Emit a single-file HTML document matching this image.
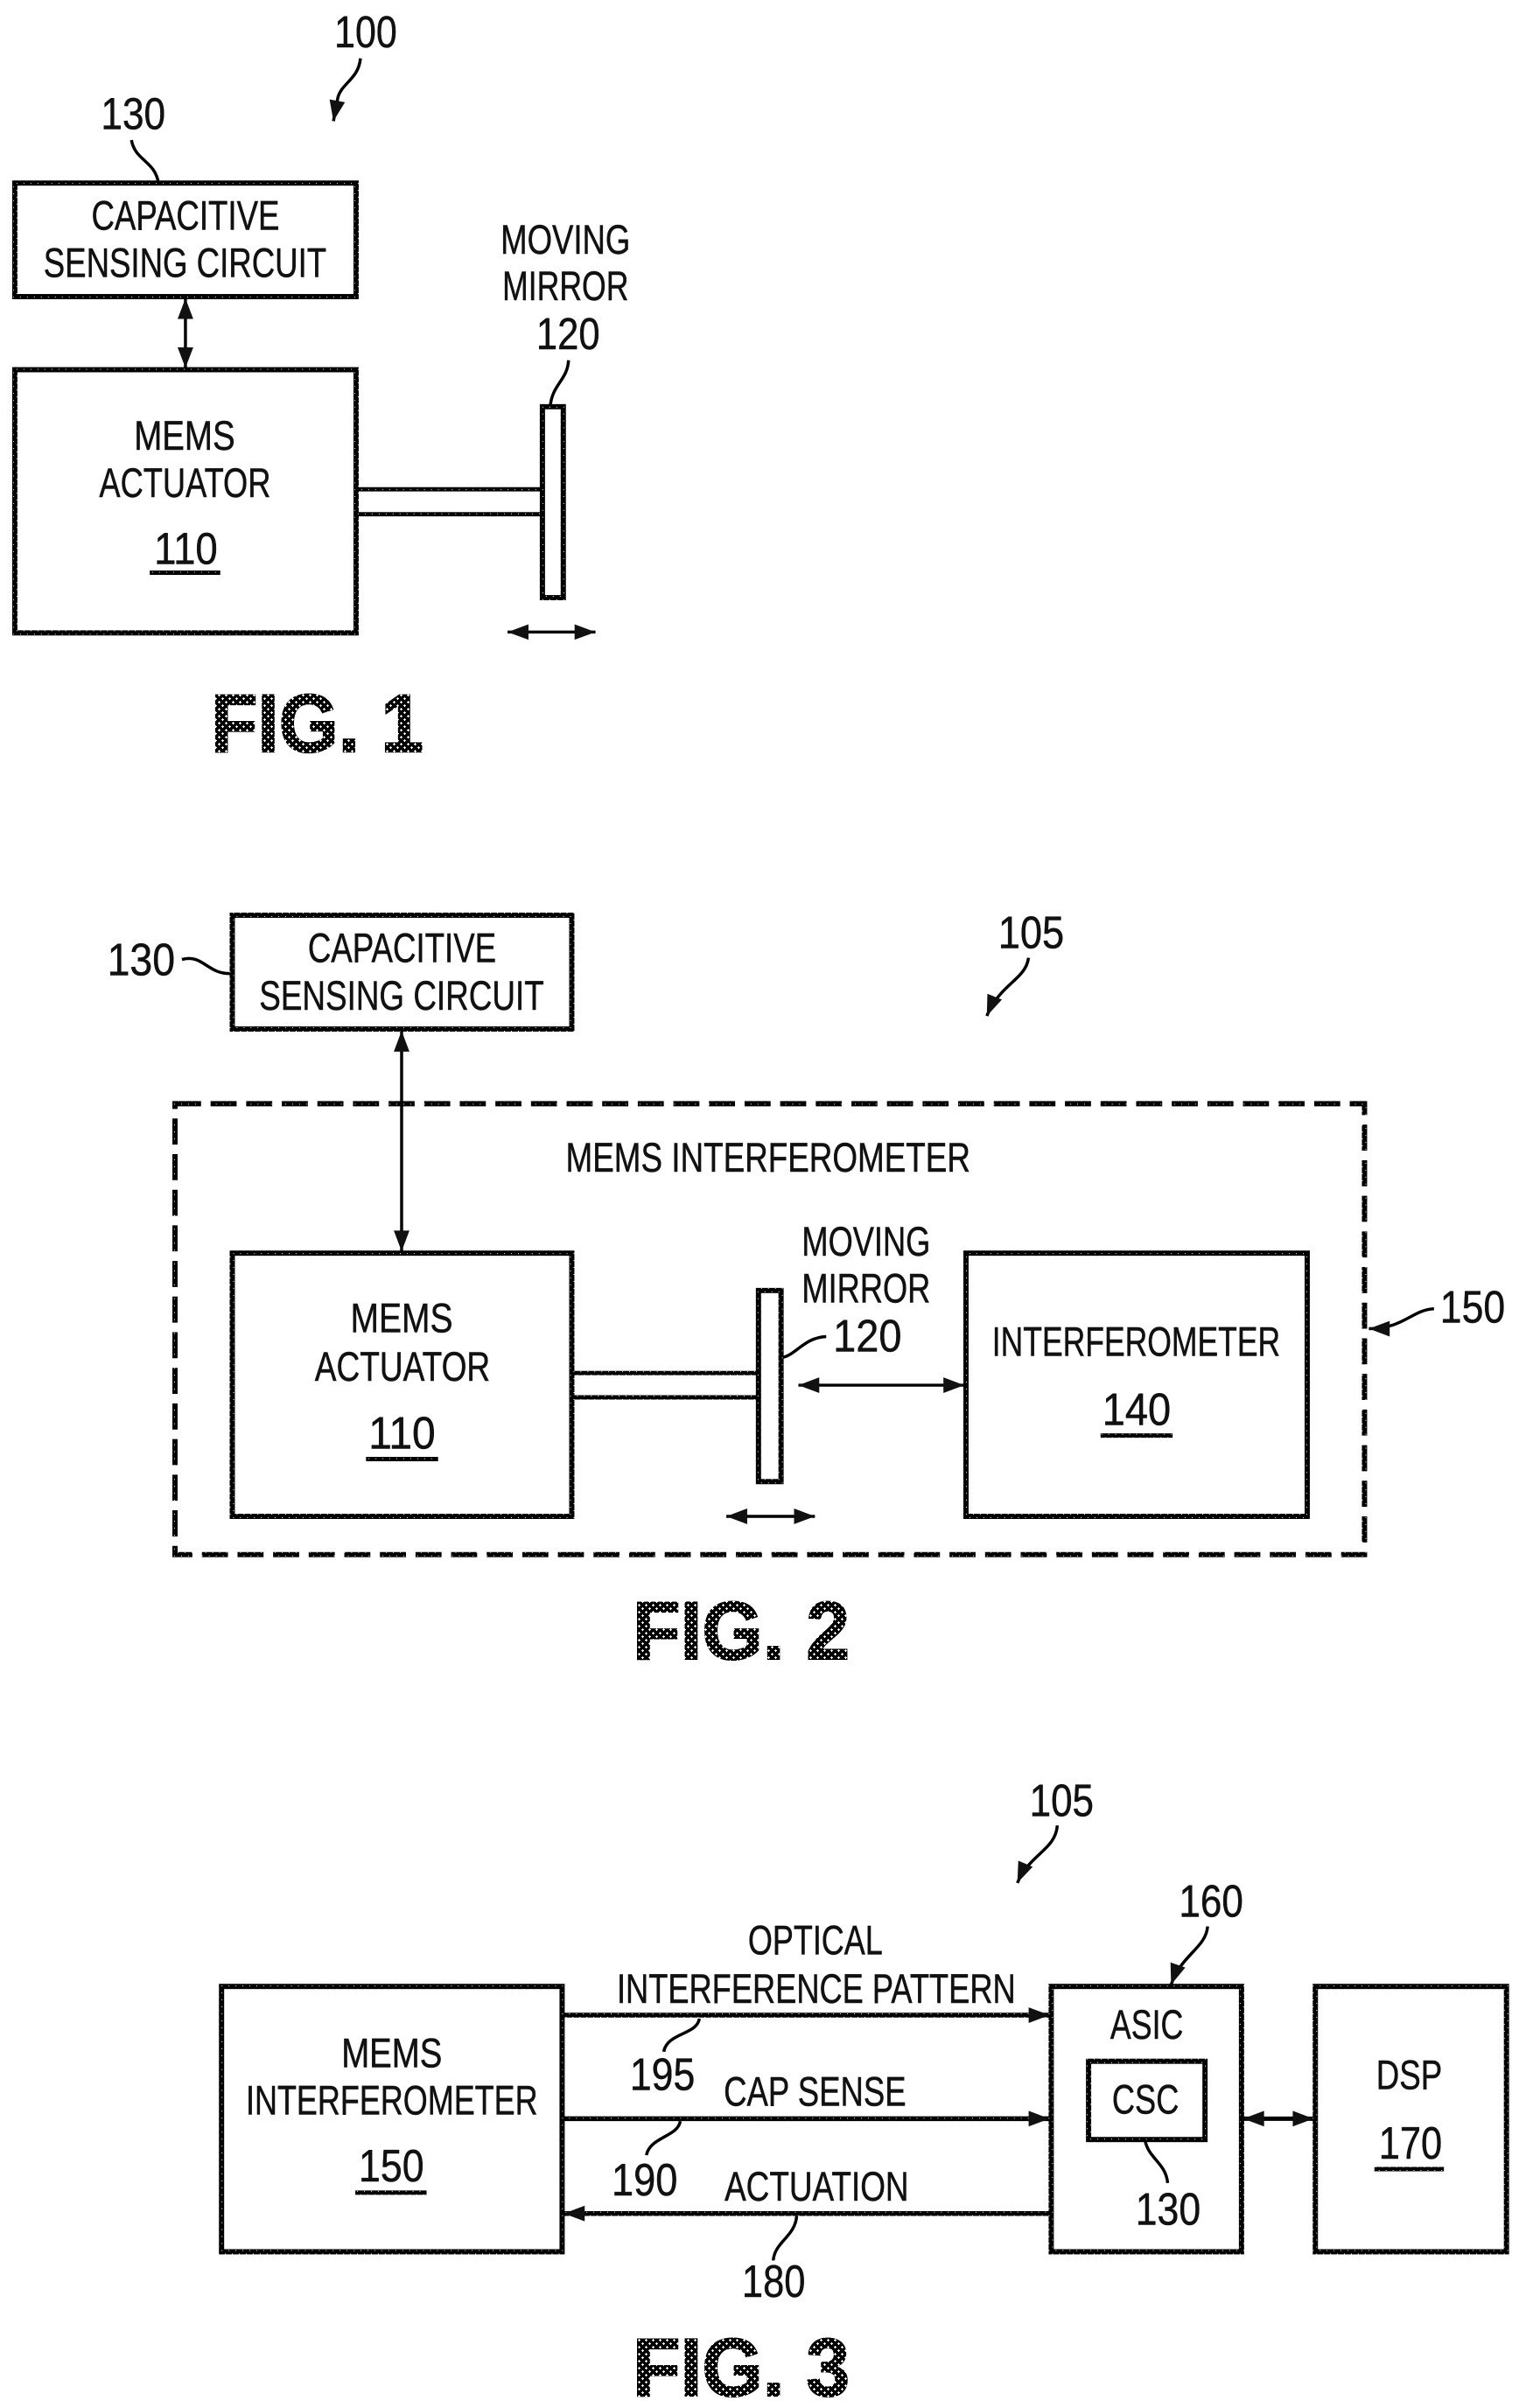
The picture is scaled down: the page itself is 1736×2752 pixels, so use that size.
<!DOCTYPE html>
<html><head><meta charset="utf-8"><style>
html,body{margin:0;padding:0;background:#fff;width:1736px;height:2752px;overflow:hidden}
svg{display:block}
text{font-family:"Liberation Sans",sans-serif;fill:#111;stroke:#111;stroke-width:.5;font-size:48px}
.n{font-size:52px}
.f{font-size:94px;font-weight:bold;fill:url(#p);stroke:url(#p);stroke-width:2}
.b{fill:none;stroke:url(#s);stroke-width:6}
.t{fill:none;stroke:url(#s);stroke-width:5}
.l{fill:none;stroke:#000;stroke-width:3.5}
.d{fill:none;stroke:url(#s);stroke-width:6;stroke-dasharray:30 11}
.a{stroke:#000;stroke-width:3.5;fill:none;marker-start:url(#m);marker-end:url(#m)}
.e{stroke:url(#s);stroke-width:5.5;fill:none;marker-end:url(#m)}
.q{stroke:#000;stroke-width:3.5;fill:none;marker-end:url(#m)}
</style></head><body>
<svg width="1736" height="2752" viewBox="0 0 1736 2752" xmlns="http://www.w3.org/2000/svg">
<defs>
<pattern id="p" patternUnits="userSpaceOnUse" width="8" height="8">
<rect width="8" height="8" fill="#000"/>
<path d="M2 1h1v1h1v1h-1v1h-1v-1h-1v-1h1zM6 5h1v1h1v1h-1v1h-1v-1h-1v-1h1z" fill="#fff"/>
</pattern>
<pattern id="s" patternUnits="userSpaceOnUse" width="8" height="8">
<rect width="8" height="8" fill="#000"/>
<rect x="3" y="3" width="1" height="1" fill="#fff"/>
<rect x="7" y="7" width="1" height="1" fill="#fff"/>
</pattern>
<marker id="m" markerUnits="userSpaceOnUse" markerWidth="26" markerHeight="20" refX="25" refY="10" orient="auto-start-reverse"><path d="M1 1L25 10L1 19Z" fill="#111"/></marker>
</defs>

<!-- FIG 1 -->
<g transform="matrix(.995 0 0 .983 0 1.8)">
<text class="n" x="384" y="53" textLength="72" lengthAdjust="spacingAndGlyphs">100</text>
<path class="q" d="M414 66C412 90 392 95 388 112L383 139"/>
<text class="n" x="116" y="148" textLength="74" lengthAdjust="spacingAndGlyphs">130</text>
<path class="l" d="M151 161C155 185 178 185 182 211"/>
<rect class="b" x="17" y="211" width="392" height="132"/>
<text x="105" y="265" textLength="216" lengthAdjust="spacingAndGlyphs">CAPACITIVE</text>
<text x="50" y="320" textLength="325" lengthAdjust="spacingAndGlyphs">SENSING CIRCUIT</text>
<path class="a" d="M213 345V426"/>
<rect class="b" x="17" y="428" width="392" height="306"/>
<text x="154" y="521" textLength="116" lengthAdjust="spacingAndGlyphs">MEMS</text>
<text x="114" y="576" textLength="197" lengthAdjust="spacingAndGlyphs">ACTUATOR</text>
<text class="n" x="177" y="654" textLength="73" lengthAdjust="spacingAndGlyphs">110</text>
<path class="t" d="M172 664H253"/>
<text x="575" y="293" textLength="149" lengthAdjust="spacingAndGlyphs">MOVING</text>
<text x="577" y="347" textLength="145" lengthAdjust="spacingAndGlyphs">MIRROR</text>
<text class="n" x="616" y="404" textLength="73" lengthAdjust="spacingAndGlyphs">120</text>
<path class="l" d="M653 417C652 440 634 445 632 471"/>
<rect class="b" x="623" y="471" width="24" height="222"/>
<path class="t" d="M409 567H623M409 596H623"/>
<path class="a" d="M583 733H684"/>
</g>
<text class="f" x="241" y="859" textLength="243" lengthAdjust="spacingAndGlyphs">FIG. 1</text>

<!-- FIG 2 -->
<g transform="matrix(.9923 0 0 .9928 1.54 7.5)">
<text class="n" x="1148" y="1084" textLength="76" lengthAdjust="spacingAndGlyphs">105</text>
<path class="q" d="M1183 1095C1180 1120 1150 1125 1135 1162"/>
<text class="n" x="122" y="1115" textLength="78" lengthAdjust="spacingAndGlyphs">130</text>
<path class="l" d="M208 1097C232 1090 238 1115 265 1113"/>
<rect class="b" x="266" y="1046" width="391" height="131"/>
<text x="353" y="1100" textLength="217" lengthAdjust="spacingAndGlyphs">CAPACITIVE</text>
<text x="297" y="1155" textLength="328" lengthAdjust="spacingAndGlyphs">SENSING CIRCUIT</text>
<rect class="d" x="200" y="1263" width="1370" height="519"/>
<text x="650" y="1341" textLength="466" lengthAdjust="spacingAndGlyphs">MEMS INTERFEROMETER</text>
<path class="a" d="M461 1179V1433"/>
<rect class="b" x="266" y="1435" width="391" height="303"/>
<text x="402" y="1526" textLength="118" lengthAdjust="spacingAndGlyphs">MEMS</text>
<text x="361" y="1582" textLength="202" lengthAdjust="spacingAndGlyphs">ACTUATOR</text>
<text class="n" x="423" y="1660" textLength="77" lengthAdjust="spacingAndGlyphs">110</text>
<path class="t" d="M420 1672H503"/>
<text x="922" y="1438" textLength="148" lengthAdjust="spacingAndGlyphs">MOVING</text>
<text x="922" y="1492" textLength="148" lengthAdjust="spacingAndGlyphs">MIRROR</text>
<text class="n" x="958" y="1548" textLength="79" lengthAdjust="spacingAndGlyphs">120</text>
<path class="l" d="M950 1531C925 1532 915 1552 900 1555"/>
<rect class="b" x="872" y="1478" width="26" height="220"/>
<path class="t" d="M657 1573H872M657 1601H872"/>
<path class="a" d="M918 1587H1109"/>
<path class="a" d="M835 1738H937"/>
<rect class="b" x="1111" y="1435" width="393" height="303"/>
<text x="1141" y="1553" textLength="332" lengthAdjust="spacingAndGlyphs">INTERFEROMETER</text>
<text class="n" x="1268" y="1633" textLength="79" lengthAdjust="spacingAndGlyphs">140</text>
<path class="t" d="M1266 1645H1349"/>
<text class="n" x="1657" y="1515" textLength="75" lengthAdjust="spacingAndGlyphs">150</text>
<path class="q" d="M1650 1499C1625 1500 1615 1522 1575 1522"/>
</g>
<text class="f" x="723" y="1896" textLength="248" lengthAdjust="spacingAndGlyphs">FIG. 2</text>

<!-- FIG 3 -->
<g transform="matrix(.9929 0 0 .9942 0 11.4)">
<text class="n" x="1185" y="2076" textLength="74" lengthAdjust="spacingAndGlyphs">105</text>
<path class="q" d="M1217 2087C1215 2115 1185 2120 1171 2153"/>
<text class="n" x="1357" y="2192" textLength="74" lengthAdjust="spacingAndGlyphs">160</text>
<path class="q" d="M1390 2203C1388 2228 1360 2235 1348 2270"/>
<text x="861" y="2235" textLength="155" lengthAdjust="spacingAndGlyphs">OPTICAL</text>
<text x="710" y="2291" textLength="459" lengthAdjust="spacingAndGlyphs">INTERFERENCE PATTERN</text>
<rect class="b" x="255" y="2272" width="392" height="305"/>
<text x="393" y="2365" textLength="116" lengthAdjust="spacingAndGlyphs">MEMS</text>
<text x="283" y="2419" textLength="336" lengthAdjust="spacingAndGlyphs">INTERFEROMETER</text>
<text class="n" x="413" y="2496" textLength="75" lengthAdjust="spacingAndGlyphs">150</text>
<path class="t" d="M409 2509H491"/>
<path class="e" d="M647 2305H1208"/>
<path class="e" d="M647 2424H1208"/>
<path class="e" d="M1210 2533H649"/>
<text class="n" x="725" y="2391" textLength="75" lengthAdjust="spacingAndGlyphs">195</text>
<path class="l" d="M805 2309C802 2328 768 2325 764 2347"/>
<text x="833" y="2409" textLength="210" lengthAdjust="spacingAndGlyphs">CAP SENSE</text>
<text class="n" x="704" y="2512" textLength="76" lengthAdjust="spacingAndGlyphs">190</text>
<path class="l" d="M783 2427C780 2445 748 2445 744 2466"/>
<text x="834" y="2518" textLength="212" lengthAdjust="spacingAndGlyphs">ACTUATION</text>
<text class="n" x="854" y="2629" textLength="73" lengthAdjust="spacingAndGlyphs">180</text>
<path class="l" d="M917 2536C915 2560 892 2565 890 2587"/>
<rect class="b" x="1210" y="2272" width="219" height="305"/>
<text x="1278" y="2332" textLength="84" lengthAdjust="spacingAndGlyphs">ASIC</text>
<rect class="b" x="1253" y="2358" width="134" height="90"/>
<text x="1280" y="2418" textLength="77" lengthAdjust="spacingAndGlyphs">CSC</text>
<path class="l" d="M1318 2449C1322 2470 1342 2475 1344 2498"/>
<text class="n" x="1307" y="2546" textLength="75" lengthAdjust="spacingAndGlyphs">130</text>
<path class="a" d="M1431 2424H1512" style="stroke-width:5"/>
<rect class="b" x="1514" y="2272" width="220" height="305"/>
<text x="1584" y="2390" textLength="76" lengthAdjust="spacingAndGlyphs">DSP</text>
<text class="n" x="1587" y="2470" textLength="73" lengthAdjust="spacingAndGlyphs">170</text>
<path class="t" d="M1582 2482H1662"/>
</g>
<text class="f" x="723" y="2738" textLength="248" lengthAdjust="spacingAndGlyphs">FIG. 3</text>
</svg>
</body></html>
